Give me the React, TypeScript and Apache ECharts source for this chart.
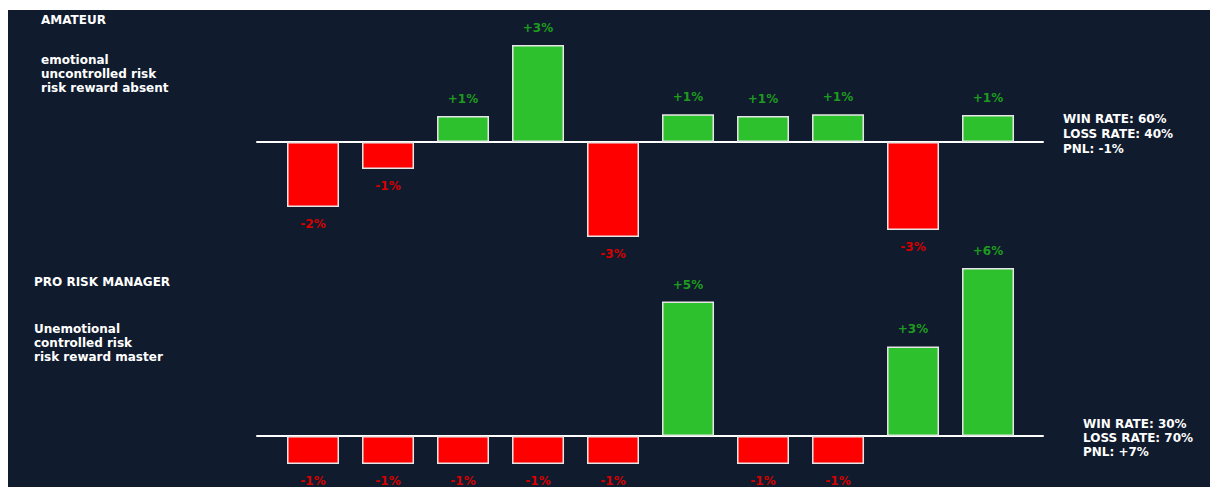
import React, { useEffect, useRef } from "react";
import * as echarts from "echarts";

// Trade index (position along each row)
const tradeIndex = [0, 1, 2, 3, 4, 5, 6, 7, 8, 9];

// AMATEUR: bar heights (percent)
const amateurValues = [-2.03, -0.84, 0.81, 3.03, -2.97, 0.87, 0.81, 0.87, -2.75, 0.84];
const amateurLabels = ["-2%", "-1%", "+1%", "+3%", "-3%", "+1%", "+1%", "+1%", "-3%", "+1%"];

// PRO RISK MANAGER
const proValues = [-1, -1, -1, -1, -1, 4.8, -1, -1, 3.2, 6];
const proLabels = ["-1%", "-1%", "-1%", "-1%", "-1%", "+5%", "-1%", "-1%", "+3%", "+6%"];

const amateurTitle = "AMATEUR";
const amateurTraits = ["emotional", "uncontrolled risk", "risk reward absent"];
const amateurStats = ["WIN RATE: 60%", "LOSS RATE: 40%", "PNL: -1%"];

const proTitle = "PRO RISK MANAGER";
const proTraits = ["Unemotional", "controlled risk", "risk reward master"];
const proStats = ["WIN RATE: 30%", "LOSS RATE: 70%", "PNL: +7%"];

const BG = "#101b2d";
const GREEN = "#2ec12e";
const RED = "#ff0000";
const GREEN_TXT = "#1e9b1e";
const RED_TXT = "#d40000";
const FONT = "'DejaVu Sans', sans-serif";

function buildData(values: number[]) {
  return tradeIndex.map((i) => {
    const v = values[i];
    const pos = v >= 0;
    return {
      value: [i, v],
      itemStyle: { color: pos ? GREEN : RED },
      label: {
        position: pos ? "top" : "bottom",
        color: pos ? GREEN_TXT : RED_TXT,
      },
    };
  });
}

function textLines(lines: string[], x: number, yCenter: number, lh: number) {
  return lines.map((t, k) => ({
    type: "text" as const,
    x,
    y: yCenter + k * lh,
    style: {
      text: t,
      fill: "#ffffff",
      font: `bold 12px ${FONT}`,
      verticalAlign: "middle",
      align: "left",
    },
  }));
}

export default function App() {
  const ref = useRef<HTMLDivElement>(null);
  useEffect(() => {
    if (!ref.current) return;
    const chart = echarts.init(ref.current, undefined, { renderer: "svg" });
    const xCommon = {
      type: "value" as const,
      min: -0.747,
      max: 9.733,
      axisLine: { show: true, onZero: true, lineStyle: { color: "#ffffff", width: 2 } },
      axisTick: { show: false },
      axisLabel: { show: false },
      splitLine: { show: false },
    };
    const yCommon = {
      type: "value" as const,
      show: false,
      splitLine: { show: false },
    };
    const labelBase = {
      show: true,
      distance: 11,
      fontFamily: FONT,
      fontSize: 12,
      fontWeight: "bold" as const,
    };
    chart.setOption({
      animation: false,
      backgroundColor: BG,
      grid: [
        { left: 249, width: 786, top: 20, height: 224 },
        { left: 249, width: 786, top: 244, height: 224 },
      ],
      xAxis: [
        { ...xCommon, gridIndex: 0 },
        { ...xCommon, gridIndex: 1 },
      ],
      yAxis: [
        { ...yCommon, gridIndex: 0, min: -3.5, max: 3.5 },
        { ...yCommon, gridIndex: 1, min: -1.5, max: 6.5 },
      ],
      series: [
        {
          type: "bar",
          xAxisIndex: 0,
          yAxisIndex: 0,
          barWidth: 52,
          data: buildData(amateurValues),
          itemStyle: { borderColor: "#e6e6e6", borderWidth: 1.5 },
          label: { ...labelBase, formatter: (p: any) => amateurLabels[p.dataIndex] },
        },
        {
          type: "bar",
          xAxisIndex: 1,
          yAxisIndex: 1,
          barWidth: 52,
          data: buildData(proValues),
          itemStyle: { borderColor: "#e6e6e6", borderWidth: 1.5 },
          label: { ...labelBase, formatter: (p: any) => proLabels[p.dataIndex] },
        },
      ],
      graphic: [
        ...textLines([amateurTitle], 33, 10, 14),
        ...textLines(amateurTraits, 33, 50, 14),
        ...textLines(amateurStats, 1055, 109, 15),
        ...textLines([proTitle], 26, 272, 14),
        ...textLines(proTraits, 26, 319, 14),
        ...textLines(proStats, 1075, 414, 14),
      ],
    });
    return () => chart.dispose();
  }, []);
  return (
    <div
      ref={ref}
      style={{ position: "absolute", left: 8, top: 10, width: 1202, height: 477 }}
    />
  );
}
